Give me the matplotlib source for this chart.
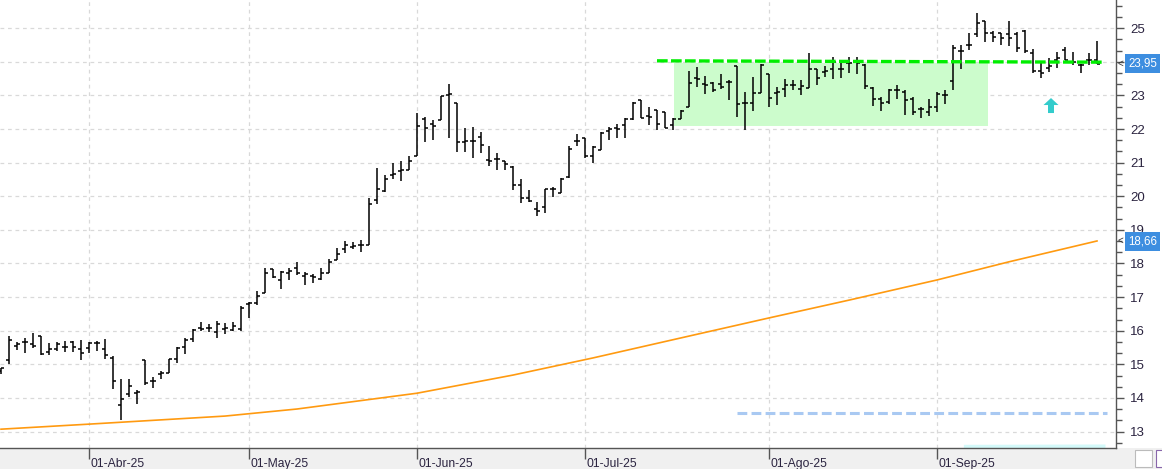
import matplotlib
matplotlib.use("Agg")
import matplotlib.pyplot as plt
from matplotlib.collections import LineCollection
from matplotlib.patches import Rectangle, Polygon
from matplotlib.ticker import MultipleLocator
import matplotlib.transforms as mtransforms

plt.rcParams["font.family"] = ["Liberation Sans", "DejaVu Sans"]

# ---------------- data (daily OHLC, trading-day index 0 = 17-Mar-25) ----------------
opens = [14.80, 15.13, 15.55, 15.65, 15.60, 15.85, 15.38, 15.47, 15.53, 15.65,
         15.45, 15.50, 15.62, 15.45, 15.20, 13.78, 14.12, 14.14, 15.13, 14.50,
         14.70, 14.75, 15.16, 15.53, 15.75, 16.07, 16.07, 15.95, 16.05, 16.02,
         16.05, 16.78, 16.83, 17.13, 17.84, 17.51, 17.72, 17.87, 17.62, 17.64,
         17.54, 17.72, 18.11, 18.44, 18.49, 18.54, 18.54, 19.88, 20.17, 20.62,
         20.75, 20.77, 21.21, 22.30, 22.16, 22.26, 23.00, 22.79, 21.61, 21.63,
         21.76, 21.07, 21.10, 21.04, 20.87, 20.35, 19.94, 19.63, 19.68, 20.22,
         20.09, 20.57, 21.63, 21.74, 21.20, 21.38, 21.93, 22.03, 22.11, 22.31,
         22.86, 22.40, 22.56, 22.51, 22.11, 22.31, 22.65, 23.51, 23.35, 23.37,
         23.35, 23.40, 23.89, 22.78, 22.78, 23.07, 23.64, 23.08, 23.20, 23.32,
         23.18, 23.23, 23.79, 23.69, 23.79, 23.79, 23.96, 24.02, 23.90, 23.23,
         22.90, 22.80, 23.15, 23.10, 22.90, 22.60, 22.50, 22.65, 23.02, 23.42,
         24.31, 24.50, 24.83, 25.22, 24.85, 24.85, 24.83, 24.83, 24.93, 24.26,
         23.74, 23.81, 24.06, 24.36, 24.01, 23.91, 24.04, 24.04]
highs = [14.90, 15.85, 15.67, 15.77, 15.92, 15.85, 15.62, 15.65, 15.70, 15.70,
         15.72, 15.65, 15.70, 15.75, 15.25, 14.57, 14.57, 14.24, 15.13, 14.62,
         14.80, 15.16, 15.53, 15.78, 16.05, 16.25, 16.20, 16.30, 16.22, 16.27,
         16.75, 16.85, 17.17, 17.87, 17.84, 17.79, 17.86, 18.04, 17.76, 17.69,
         17.87, 18.14, 18.47, 18.66, 18.63, 18.70, 19.95, 20.85, 20.62, 20.99,
         21.04, 21.21, 22.48, 22.36, 22.26, 22.98, 23.35, 22.79, 22.04, 22.06,
         21.91, 21.51, 21.30, 21.04, 20.89, 20.50, 20.19, 19.82, 20.22, 20.29,
         20.55, 21.51, 21.84, 21.74, 21.51, 21.91, 22.06, 22.14, 22.34, 22.81,
         22.86, 22.66, 22.56, 22.51, 22.33, 22.57, 23.74, 23.84, 23.59, 23.40,
         23.64, 23.45, 23.89, 23.10, 23.54, 23.94, 23.64, 23.25, 23.50, 23.47,
         23.45, 24.26, 23.79, 23.89, 24.14, 24.04, 24.14, 24.14, 23.94, 23.25,
         22.95, 23.20, 23.30, 23.15, 22.95, 22.65, 22.90, 23.10, 23.17, 24.50,
         24.50, 24.85, 25.45, 25.22, 24.93, 24.85, 25.22, 24.90, 24.95, 24.39,
         24.01, 24.11, 24.28, 24.44, 24.28, 23.93, 24.26, 24.62]
lows = [14.70, 15.01, 15.42, 15.33, 15.50, 15.27, 15.28, 15.40, 15.38, 15.38,
        15.13, 15.35, 15.40, 15.15, 14.27, 13.33, 14.02, 13.83, 14.38, 14.30,
        14.56, 14.75, 15.03, 15.30, 15.65, 16.00, 15.95, 15.78, 15.90, 15.99,
        15.98, 16.37, 16.77, 17.13, 17.58, 17.23, 17.52, 17.66, 17.36, 17.41,
        17.51, 17.72, 18.11, 18.32, 18.42, 18.34, 18.54, 19.78, 20.14, 20.52,
        20.45, 20.77, 21.21, 21.61, 21.66, 22.26, 21.74, 21.32, 21.32, 21.15,
        21.30, 20.90, 20.79, 20.79, 20.19, 19.80, 19.84, 19.40, 19.50, 19.97,
        20.09, 20.55, 21.50, 21.15, 21.00, 21.38, 21.66, 21.74, 21.74, 22.26,
        22.33, 22.11, 21.98, 22.03, 21.98, 22.31, 22.65, 23.25, 23.05, 23.10,
        23.20, 22.85, 22.36, 21.98, 22.53, 23.07, 22.67, 22.72, 22.95, 23.17,
        23.00, 23.23, 23.30, 23.56, 23.50, 23.52, 23.66, 23.64, 23.20, 22.68,
        22.55, 22.75, 22.90, 22.43, 22.43, 22.34, 22.40, 22.50, 22.75, 23.15,
        23.79, 24.34, 24.73, 24.60, 24.60, 24.49, 24.48, 24.29, 24.26, 23.66,
        23.51, 23.71, 23.83, 24.04, 23.91, 23.66, 23.91, 23.94]
closes = [14.88, 15.72, 15.60, 15.65, 15.55, 15.30, 15.45, 15.60, 15.53, 15.52,
          15.33, 15.62, 15.64, 15.28, 14.50, 13.98, 14.34, 14.17, 14.45, 14.50,
          14.73, 15.16, 15.48, 15.72, 16.03, 16.05, 16.07, 16.20, 16.07, 16.15,
          16.68, 16.83, 17.03, 17.72, 17.61, 17.74, 17.79, 17.71, 17.69, 17.61,
          17.72, 18.04, 18.29, 18.54, 18.51, 18.54, 19.78, 20.22, 20.52, 20.65,
          20.77, 21.04, 22.08, 22.04, 22.08, 22.98, 23.04, 21.61, 21.63, 21.63,
          21.54, 21.05, 21.10, 20.95, 20.35, 19.95, 19.87, 19.55, 20.22, 20.22,
          20.52, 21.42, 21.63, 21.20, 21.48, 21.88, 22.01, 21.99, 22.31, 22.78,
          22.33, 22.35, 22.14, 22.04, 22.30, 22.55, 23.38, 23.50, 23.30, 23.15,
          23.25, 23.40, 22.75, 22.78, 23.08, 23.92, 22.93, 23.10, 23.30, 23.30,
          23.28, 23.79, 23.52, 23.72, 23.99, 23.79, 23.96, 23.96, 23.27, 22.90,
          22.78, 23.15, 23.15, 22.87, 22.50, 22.60, 22.65, 23.05, 23.02, 24.41,
          24.31, 24.50, 25.15, 24.85, 24.75, 24.70, 24.70, 24.41, 24.31, 23.74,
          23.68, 23.89, 24.11, 24.06, 24.01, 23.91, 24.04, 23.95]

# moving average (orange), read at selected trading-day indices
ma_idx = [0, 11, 28, 37, 52, 64, 74, 86, 96, 106, 117, 126, 137]
ma_val = [13.07, 13.22, 13.46, 13.67, 14.14, 14.68, 15.19, 15.84, 16.38, 16.91,
          17.51, 18.05, 18.67]

# month ticks
tick_idx = [11, 31, 52, 73, 96, 117]
tick_labels = ["01-Abr-25", "01-May-25", "01-Jun-25", "01-Jul-25", "01-Ago-25", "01-Sep-25"]

# annotations
resist_idx = [82, 138]
resist_val = [24.03, 23.99]
box_idx = [84.1, 123.4]
box_val = [22.09, 23.96]
blue_idx = [92, 138.2]
blue_val = 13.54
cyan_idx = [120.3, 138]
arrow_idx = 131.25
arrow_val = 22.70
last_price = 23.95
ma_last = 18.66

# ---------------- figure ----------------
W, H = 1162, 469
fig = plt.figure(figsize=(W / 100, H / 100), dpi=100)
fig.patch.set_facecolor("white")
fig.patches.append(Rectangle((0, 0), 1, 21 / H, transform=fig.transFigure,
                             facecolor="#f0f0f0", edgecolor="none", zorder=-2))
ax = fig.add_axes([0, 21 / H, 1116 / W, 448 / H])
ax.set_facecolor("white")

n = len(opens)
xs = list(range(n))
ax.set_xlim(-0.125, 139.375)
ax.set_ylim(12.51, 25.84)

# grid
ax.set_axisbelow(True)
ax.grid(True, which="major", color="#d9d9d9", linestyle=(0, (3, 3)), linewidth=0.9)

# green rectangle
ax.add_patch(Rectangle((box_idx[0], box_val[0]), box_idx[1] - box_idx[0], box_val[1] - box_val[0],
                       facecolor="#ccfccc", edgecolor="none", zorder=1))

# faint cyan area at bottom right
ax.fill_between(cyan_idx, [12.51, 12.51], [12.62, 12.63], color="#d4fafa", zorder=1, lw=0)

# OHLC bars
tick = 0.4
segs = []
for i in xs:
    segs.append([(i, lows[i]), (i, highs[i])])
    segs.append([(i - tick, opens[i]), (i, opens[i])])
    segs.append([(i, closes[i]), (i + tick, closes[i])])
ax.add_collection(LineCollection(segs, colors="black", linewidths=1.1, zorder=4, capstyle="butt"))

# moving average
ax.plot(ma_idx, ma_val, color="#ff9a10", lw=1.2, zorder=3)

# resistance dashed green
l, = ax.plot(resist_idx, resist_val, color="#00ee00", lw=2.4, zorder=5)
l.set_dashes((3.2, 1.0))
# light-blue dashed
l2, = ax.plot(blue_idx, [blue_val, blue_val], color="#a9c9f2", lw=2.2, zorder=3)
l2.set_dashes((3.2, 1.4))

# cyan up arrow (sizes in pixels)
px_x = 1 / 8.0
px_y = 1 / 33.6
arr = [(arrow_idx, arrow_val + 7.5 * px_y),
       (arrow_idx + 7.5 * px_x, arrow_val + 0.5 * px_y),
       (arrow_idx + 3 * px_x, arrow_val + 0.5 * px_y),
       (arrow_idx + 3 * px_x, arrow_val - 7.5 * px_y),
       (arrow_idx - 3 * px_x, arrow_val - 7.5 * px_y),
       (arrow_idx - 3 * px_x, arrow_val + 0.5 * px_y),
       (arrow_idx - 7.5 * px_x, arrow_val + 0.5 * px_y)]
ax.add_patch(Polygon(arr, closed=True, facecolor="#33cccc", edgecolor="none", zorder=6))

# axes styling
for s in ["top", "left"]:
    ax.spines[s].set_visible(False)
for s in ["right", "bottom"]:
    ax.spines[s].set_color("#555555")
    ax.spines[s].set_linewidth(1.0)

ax.yaxis.tick_right()
ax.set_yticks(range(13, 26))
ax.yaxis.set_minor_locator(MultipleLocator(1 / 3))
ax.tick_params(axis="y", which="major", length=6, width=1, colors="#555555",
               labelcolor="#2b2440", labelsize=9.5, pad=4)
ax.tick_params(axis="y", which="minor", length=4, width=1, colors="#555555")
ax.set_xticks(tick_idx)
ax.set_xticklabels(tick_labels)
ax.tick_params(axis="x", which="major", length=8, width=1, colors="#555555",
               labelcolor="#2b2440", labelsize=8.7, pad=-1)
for lbl in ax.get_xticklabels():
    lbl.set_horizontalalignment("left")
    lbl.set_transform(lbl.get_transform() + mtransforms.ScaledTranslation(1.5 / 100, 0, fig.dpi_scale_trans))

# price labels on the right axis
trans = mtransforms.blended_transform_factory(ax.transAxes, ax.transData)
for v in [last_price, ma_last]:
    ax.text(1.0 + 12 / 1116, v, f"{v:.2f}".replace(".", ","), transform=trans,
            ha="left", va="center", color="white", fontsize=8.3, zorder=10, clip_on=False,
            bbox=dict(boxstyle="square,pad=0.3", facecolor="#3d8ee0", edgecolor="none"))
    ax.text(1.0 + 1 / 1116, v, "<", transform=trans, ha="left", va="center",
            color="#333333", fontsize=7, zorder=10, clip_on=False)

# small buttons at bottom right
fig.patches.append(Rectangle((1135 / W, 2 / H), 17 / W, 17 / H, transform=fig.transFigure,
                             facecolor="white", edgecolor="#bbbbbb", lw=0.8, zorder=-1))
fig.patches.append(Rectangle((1156 / W, 2 / H), 10 / W, 17 / H, transform=fig.transFigure,
                             facecolor="white", edgecolor="#8866aa", lw=0.8, zorder=-1))

fig.savefig("out.png", dpi=100)
